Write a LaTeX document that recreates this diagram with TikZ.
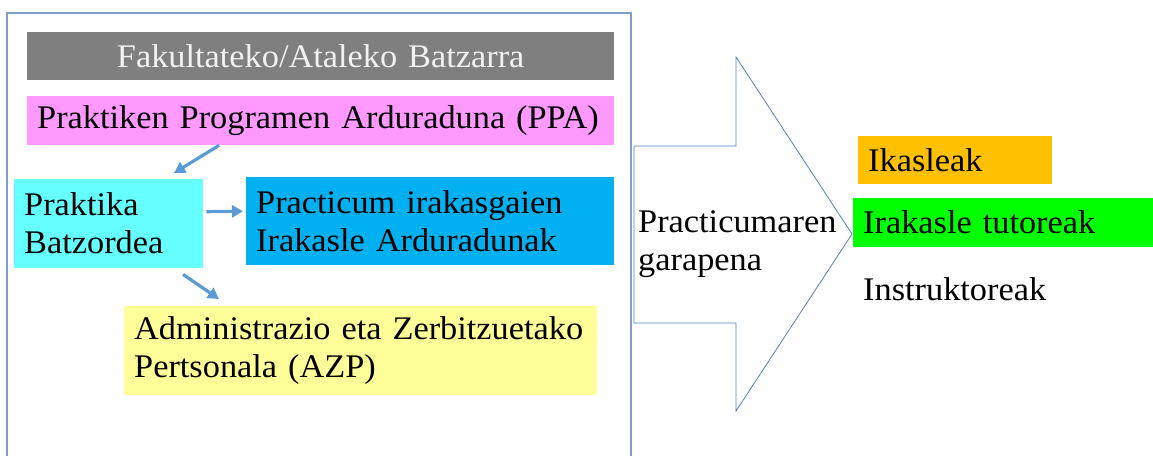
\documentclass[tikz,border=0pt]{standalone}
\usepackage{fontspec}
\setmainfont{Liberation Serif}[FakeStretch=1.04]
\usepackage{xcolor}
\usetikzlibrary{positioning,calc,arrows.meta}

\definecolor{framecol}{HTML}{7F9FC8}
\definecolor{arrowcol}{HTML}{5B9BD5}
\definecolor{bigarrowcol}{HTML}{4F81BD}
\definecolor{batzgray}{HTML}{7F7F7F}
\definecolor{ppapink}{HTML}{FF99FF}
\definecolor{batzcyan}{HTML}{66FFFF}
\definecolor{arduablue}{HTML}{00B0F0}
\definecolor{azpyellow}{HTML}{FFFF99}
\definecolor{ikasorange}{HTML}{FFC000}
\definecolor{tutorgreen}{HTML}{00FF00}

\begin{document}
\begin{tikzpicture}[x=1pt, y=-1pt,
    txt/.style={font=\fontsize{33}{38}\selectfont},
    box/.style={txt, anchor=north west, inner xsep=10pt, inner ysep=0pt, align=left},
    link/.style={draw=arrowcol, line width=3.2pt, -{Triangle[length=11pt,width=12pt]}}]
    \useasboundingbox (0,0) rectangle (1153,455);
    % frame of the left part
    \draw[framecol, line width=1.3pt] (7,470) |- (631,13) -- (631,470);
    \node[box, fill=batzgray, text=white!95!black, align=center, text width=567pt, minimum height=48pt] (batz) at (27,32) {Fakultateko/Ataleko Batzarra};
    \node[box, fill=ppapink, text width=567pt, minimum height=49pt] (ppa) at (27,96) {Praktiken Programen Arduraduna (PPA)};
    \node[box, fill=batzcyan, text width=169pt, minimum height=89pt] (pb) at (14,179) {Praktika\\Batzordea};
    \node[box, fill=arduablue, text width=348pt, minimum height=88pt] (ira) at (246,177) {Practicum irakasgaien\\Irakasle Arduradunak};
    \node[box, fill=azpyellow, text width=453pt, minimum height=89pt] (azp) at (124,306) {Administrazio eta Zerbitzuetako\\Pertsonala (AZP)};
    \draw[link] ($(ppa.south west)+(192,0)$) -- ($(pb.north west)+(160,-6)$);
    \draw[link] ($(pb.east)+(3,-12)$) -- ($(ira.west)+(-3,-10)$);
    \draw[link] ($(pb.south west)+(169,6)$) -- ($(azp.north west)+(95,-7)$);
    % big arrow
    \draw[bigarrowcol, line width=0.8pt] (634,146) -- (736,146) -- (736,57) -- (852,234)
        -- (736,411) -- (736,323) -- (634,323) -- cycle;
    \node[txt, anchor=west, align=left, inner sep=0pt] (gara) at (638,244) {Practicumaren\\garapena};
    \node[box, fill=ikasorange, text width=174pt, minimum height=48pt] (ikas) at (858,136) {Ikasleak};
    \node[box, fill=tutorgreen, text width=280pt, minimum height=49pt] (tutor) at (853,198) {Irakasle tutoreak};
    \node[box, text width=280pt, minimum height=49pt] (instr) at (853,265) {Instruktoreak};
\end{tikzpicture}
\end{document}
